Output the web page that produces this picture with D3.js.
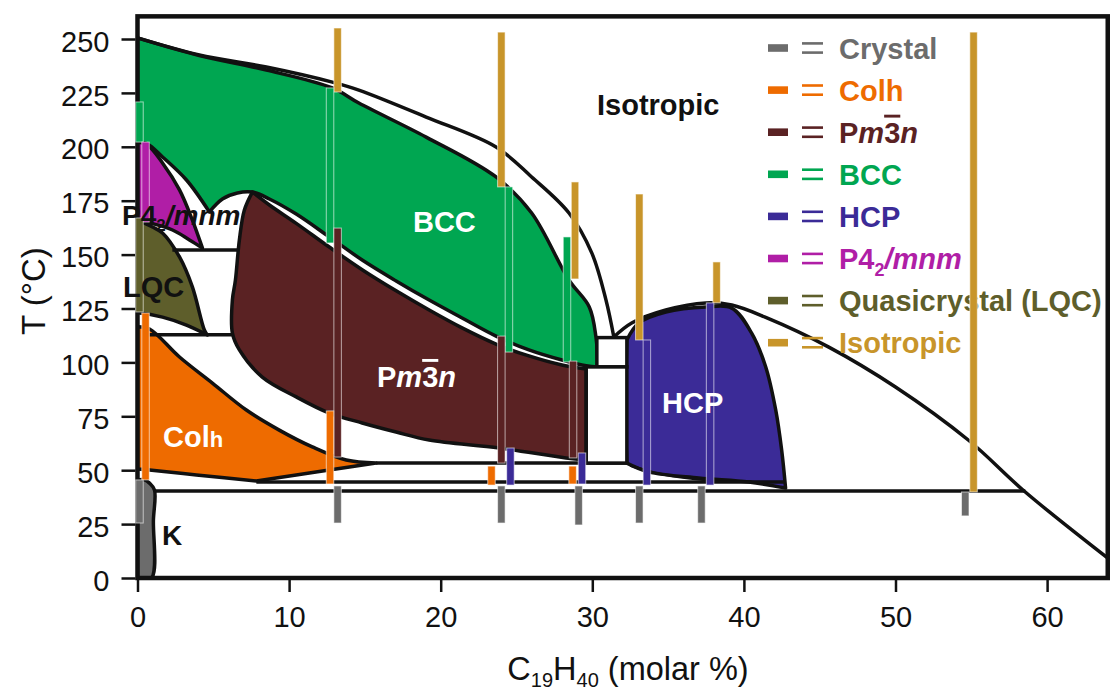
<!DOCTYPE html>
<html><head><meta charset="utf-8">
<script src="https://cdn.jsdelivr.net/npm/d3@7"></script>
<style>
body{margin:0;background:#fff}
svg{display:block}
text{font-family:"Liberation Sans",Arial,Helvetica,sans-serif}
</style>
</head><body>
<svg id="chart" width="1110" height="692"></svg>
<script>
// ---------- axis data ----------
const xTicks = [0, 10, 20, 30, 40, 50, 60];
const yTicks = [0, 25, 50, 75, 100, 125, 150, 175, 200, 225, 250];
const xMax = 64, tMax = 260.5;

// ---------- phase colours ----------
const phaseColor = {
  crystal: "#6c6c6c", colh: "#ee6b00", pm3n: "#5a2223", bcc: "#00a651",
  hcp: "#3b2b97", p42: "#b01ea6", lqc: "#5e5e2b", iso: "#c8952a"
};

// ---------- phase boundaries [composition %, T °C] ----------
const liquidusLeft = [[0,250.5],[4.08,242.6],[8.5,237],[12.85,230],[14.6,226.3],[19.04,213.8],[23.65,199.9],[26.0,186],[28.46,169.3],[29.97,150.7],[30.9,129],[31.42,111.8]];
const liquidusRight = [[31.42,111.8],[32.6,118.3],[34.85,124.3],[37.48,127.6],[39.2,126.6],[41.4,121],[45.6,107.1],[50,88.6],[54.8,64],[58.56,39.9],[64.5,6.5]];

const bccTop = [[0,250.5],[4.08,242.3],[8.5,235.6],[12.85,227.3],[14.6,220.3],[19.04,204.5],[23.65,186],[26.0,169.3],[28.46,138.2],[29.8,125.7],[30.24,111.8],[30.37,97.9]];
const bccBottom = [[30.37,97.9],[29.6,98.4],[28.0,101.1],[25.82,105.8],[23.65,112.2],[21.41,120.6],[19.24,128.9],[17.06,137.8],[14.82,147.5],[12.65,158.2],[10.47,168.8],[8.7,175.8],[7.58,179],[6.59,178.6],[5.6,175.8],[4.74,169.8]];
const bccCusp = [[4.74,169.8],[3.23,184.6],[1.65,195.3],[0.66,201.3],[0,202.2]];

const pm3nTop = [[7.58,179],[8.7,173],[10.47,164.5],[12.65,153.5],[14.82,143],[17.06,133.2],[19.24,124.3],[21.41,116],[23.65,108.5],[25.82,103],[28.0,98.8],[29.6,96.9]];
const pm3nBottom = [[29.6,54.7],[28.26,55.7],[23.85,60.3],[19.24,64],[17.06,67.7],[14.82,71.9],[12.65,76.5],[10.47,84],[8.23,93.2],[6.72,105.8],[6.26,113.6],[6.26,129],[6.46,138.2],[6.72,156.8],[7.05,170.7],[7.58,179]];

const p42Right = [[0,202.2],[0.66,200.8],[1.65,192.5],[2.77,180],[3.62,166],[4.28,153.1]];
const p42Lower = [[4.28,153.1],[3.43,156.8],[2.31,161.4],[0.79,164.7],[0,165.6]];

const lqcTop = [[0,166],[0.99,162.8],[1.65,160],[2.77,148.9],[3.62,135],[4.41,115],[4.61,112.7]];
const lqcBottom = [[4.61,112.7],[3.23,117.3],[1.65,121],[0.13,122.9],[0,122.9]];

const colhTop = [[0,116.5],[0.79,115.5],[2.77,102.5],[4.94,90.4],[7.18,77.9],[9.35,68.6],[11.53,60.8],[13.77,54.7],[15.74,53.3]];
const colhBottomRight = [[15.74,53.3],[12.65,50.1],[10.47,47.8],[7.84,45]];
const colhBottomLeft = [[7.84,45],[3.89,47.8],[0.79,50.1],[0,50.6]];

const hcpTop = [[32.28,110.4],[33.07,118.3],[34.85,123.4],[37.48,125.7],[39.2,125.2],[40.51,113.6],[41.44,97.9],[42.1,77.9],[42.49,59.4],[42.75,41.7]];
const hcpBottom = [[42.75,41.7],[40.32,44.5],[37.02,46.4],[33.73,49.2],[32.28,53.3]];
const hcpLeft = [[32.28,53.3],[32.18,80],[32.28,110.4]];
const hcpLowerLine = [[32.5,52.2],[34.5,48.2],[37.5,45.4],[40.5,44.6]];

const crystalK = [[0,45.5],[0.46,45.5],[0.79,44],[1.12,40.8],[1.05,26.9],[0.92,0],[0,0]];

// horizontal invariant lines [c start, c end, T]
const tieLines = [[2.3,6.63,152.1],[0.8,6.3,112.8],[15.74,32.28,53.3],[7.84,42.7,44.5],[1.12,58.56,40.35]];
// white bordered boxes [c0, c1, T0, T1]
const boxes = [[30.3,32.28,97.9,111.5],[29.6,32.28,53.3,97.9]];

// experimental bars [phase, composition, T low, T high]
const bars = [
  ["bcc",0.13,202.2,220.8],["p42",0.53,165.1,202.2],["lqc",0.13,123.4,167],["colh",0.53,45.5,122.9],["crystal",0.13,25.5,45.5],
  ["iso",13.2,225.4,255.1],["bcc",12.7,155.4,227.3],["pm3n",13.2,56.1,162.3],["colh",12.7,43.6,77.5],["crystal",13.2,25.5,42.7],
  ["iso",24.0,181.4,253.2],["bcc",24.5,104.8,181.4],["pm3n",24.0,53.3,112.2],["hcp",24.6,43.1,60.3],["colh",23.35,43.1,51.9],["crystal",24.0,25.5,42.7],
  ["bcc",28.33,100.2,158.2],["iso",28.86,138.7,183.7],["pm3n",28.73,55.7,100.6],["hcp",29.32,43.6,58],["colh",28.7,43.6,51.9],["crystal",29.1,24.6,42.7],
  ["iso",33.1,110.4,178.1],["hcp",33.6,43.1,110.4],["crystal",33.1,25.5,42.7],
  ["iso",38.2,127.6,146.6],["hcp",37.77,43.1,127.6],["crystal",37.2,25.5,42.7],
  ["iso",55.15,39.9,253.2],["crystal",54.6,28.8,39.9]
];

const legendPhases = ["crystal","colh","pm3n","bcc","hcp","p42","lqc","iso"];

// ---------- scales ----------
const svg = d3.select("#chart");
const x = d3.scaleLinear().domain([0, 60]).range([137.5, 1047.1]);
const y = d3.scaleLinear().domain([0, 250]).range([578, 39]);

const defs = svg.append("defs");
defs.append("clipPath").attr("id","plot").append("rect")
  .attr("x", x(0)).attr("y", y(tMax)).attr("width", x(xMax)-x(0)).attr("height", y(0)-y(tMax));

const curve = d3.line().x(d=>x(d[0])).y(d=>y(d[1])).curve(d3.curveCatmullRom.alpha(0.5));
function regionPath(edges){
  return edges.map((e,i)=>{ const s = curve(e); return i===0 ? s : s.replace(/^M/,"L"); }).join("") + "Z";
}

const LW = 3.5;
const plot = svg.append("g").attr("clip-path","url(#plot)");
function region(edges, color){
  plot.append("path").attr("d", regionPath(edges)).attr("fill", color)
    .attr("stroke","#111").attr("stroke-width",LW).attr("stroke-linejoin","round");
}
region([bccTop, bccBottom, bccCusp], phaseColor.bcc);
region([pm3nTop, [[29.6,96.9],[29.6,54.7]], pm3nBottom], phaseColor.pm3n);
region([p42Right, p42Lower], phaseColor.p42);
region([lqcTop, lqcBottom], phaseColor.lqc);
region([colhTop, colhBottomRight, colhBottomLeft], phaseColor.colh);
region([hcpTop, hcpBottom, hcpLeft], phaseColor.hcp);
region([crystalK], phaseColor.crystal);

// liquidus lines
[liquidusLeft, liquidusRight, hcpLowerLine].forEach((l,i)=>{
  plot.append("path").attr("d", curve(l)).attr("fill","none").attr("stroke","#111").attr("stroke-width",i<2?LW:2.5);
});
// tie lines
plot.selectAll("line.tie").data(tieLines).join("line").attr("class","tie")
  .attr("x1",d=>x(d[0])).attr("x2",d=>x(d[1])).attr("y1",d=>y(d[2])).attr("y2",d=>y(d[2]))
  .attr("stroke","#111").attr("stroke-width",LW);
// boxes
plot.selectAll("rect.box").data(boxes).join("rect").attr("class","box")
  .attr("x",d=>x(d[0])).attr("width",d=>x(d[1])-x(d[0]))
  .attr("y",d=>y(d[3])).attr("height",d=>y(d[2])-y(d[3]))
  .attr("fill","#fff").attr("stroke","#111").attr("stroke-width",LW);

// ---------- frame & axes ----------
svg.append("rect").attr("x",x(0)).attr("y",y(tMax)).attr("width",x(xMax)-x(0)).attr("height",y(0)-y(tMax))
  .attr("fill","none").attr("stroke","#111").attr("stroke-width",4.5);

const yAxis = d3.axisLeft(y).tickValues(yTicks).tickSize(14).tickPadding(12);
const gy = svg.append("g").attr("transform",`translate(${x(0)-2},0)`).call(yAxis);
gy.select(".domain").remove();
gy.selectAll(".tick line").attr("stroke","#111").attr("stroke-width",2.5);
gy.selectAll(".tick text").attr("font-size",29).attr("fill","#111").attr("dy","0.42em")
  .style("font-family",'"Liberation Sans",Arial,sans-serif');

const xAxis = d3.axisBottom(x).tickValues(xTicks).tickSize(14).tickPadding(14);
const gx = svg.append("g").attr("transform",`translate(0,${y(0)})`).call(xAxis);
gx.select(".domain").remove();
gx.selectAll(".tick line").attr("stroke","#111").attr("stroke-width",2.5);
gx.selectAll(".tick text").attr("font-size",29).attr("fill","#111")
  .style("font-family",'"Liberation Sans",Arial,sans-serif');

// axis titles
const xt = svg.append("text").attr("x", 628).attr("y", 680).attr("text-anchor","middle").attr("font-size",32.5).attr("fill","#111");
xt.append("tspan").text("C");
xt.append("tspan").attr("font-size",20).attr("dy",7).text("19");
xt.append("tspan").attr("dy",-7).text("H");
xt.append("tspan").attr("font-size",20).attr("dy",7).text("40");
xt.append("tspan").attr("dy",-7).text(" (molar %)");

svg.append("text").attr("transform","translate(45,291) rotate(-90)").attr("text-anchor","middle")
  .attr("font-size",33).attr("fill","#111").text("T (°C)");

// ---------- legend ----------
const lg = svg.append("g");
legendPhases.forEach((ph,i)=>{
  const cy = 48 + i*42.1, col = phaseColor[ph];
  lg.append("rect").attr("x",768).attr("y",cy-3.8).attr("width",20).attr("height",7.6).attr("fill",col);
  [-4.6,4.6].forEach(o=>lg.append("line").attr("x1",802).attr("x2",823).attr("y1",cy+o).attr("y2",cy+o)
    .attr("stroke",col).attr("stroke-width",2.6));
  const t = lg.append("text").attr("x",839).attr("y",cy+10.5).attr("fill",col).attr("font-size",29).attr("font-weight","bold");
  if (ph==="crystal") t.text("Crystal");
  else if (ph==="colh") t.text("Colh");
  else if (ph==="pm3n") { t.append("tspan").text("P"); t.append("tspan").attr("font-style","italic").text("m");
    t.append("tspan").style("text-decoration","overline").text("3"); t.append("tspan").attr("font-style","italic").text("n"); }
  else if (ph==="bcc") t.text("BCC");
  else if (ph==="hcp") t.text("HCP");
  else if (ph==="p42") { t.append("tspan").text("P4"); t.append("tspan").attr("font-size",18).attr("dy",7).text("2");
    t.append("tspan").attr("dy",-7).attr("font-style","italic").text("/mnm"); }
  else if (ph==="lqc") t.text("Quasicrystal (LQC)");
  else t.text("Isotropic");
});

// ---------- experimental bars ----------
const bw = 7.5;
svg.append("g").selectAll("rect").data(bars).join("rect")
  .attr("x",d=>x(d[1])-bw/2).attr("width",bw)
  .attr("y",d=>y(d[3])).attr("height",d=>y(d[2])-y(d[3]))
  .attr("fill",d=>phaseColor[d[0]])
  .attr("stroke","rgba(255,255,255,0.6)").attr("stroke-width",1);

// ---------- region labels ----------
function label(c, t, color, size){
  return svg.append("text").attr("x",x(c)).attr("y",y(t)).attr("fill",color)
    .attr("font-size",size).attr("font-weight","bold");
}
label(30.31,214.7,"#111",29).text("Isotropic");
label(18.17,160.5,"#fff",29).text("BCC");
label(34.6,76.5,"#fff",29).text("HCP");
label(1.62,15.3,"#111",28).text("K");
label(-0.96,130.3,"#111",29).text("LQC");
const col = label(1.68,60.8,"#fff",29);
col.append("tspan").text("Col"); col.append("tspan").attr("font-size",22).text("h");
const pm = label(15.8,88.6,"#fff",29);
pm.append("tspan").text("P"); pm.append("tspan").attr("font-style","italic").text("m");
pm.append("tspan").style("text-decoration","overline").text("3"); pm.append("tspan").attr("font-style","italic").text("n");
const p4 = label(-1.02,163.7,"#111",28);
p4.append("tspan").text("P4"); p4.append("tspan").attr("font-size",17).attr("dy",6).text("2");
p4.append("tspan").attr("dy",-6).attr("font-style","italic").text("/mnm");
</script>
</body></html>
